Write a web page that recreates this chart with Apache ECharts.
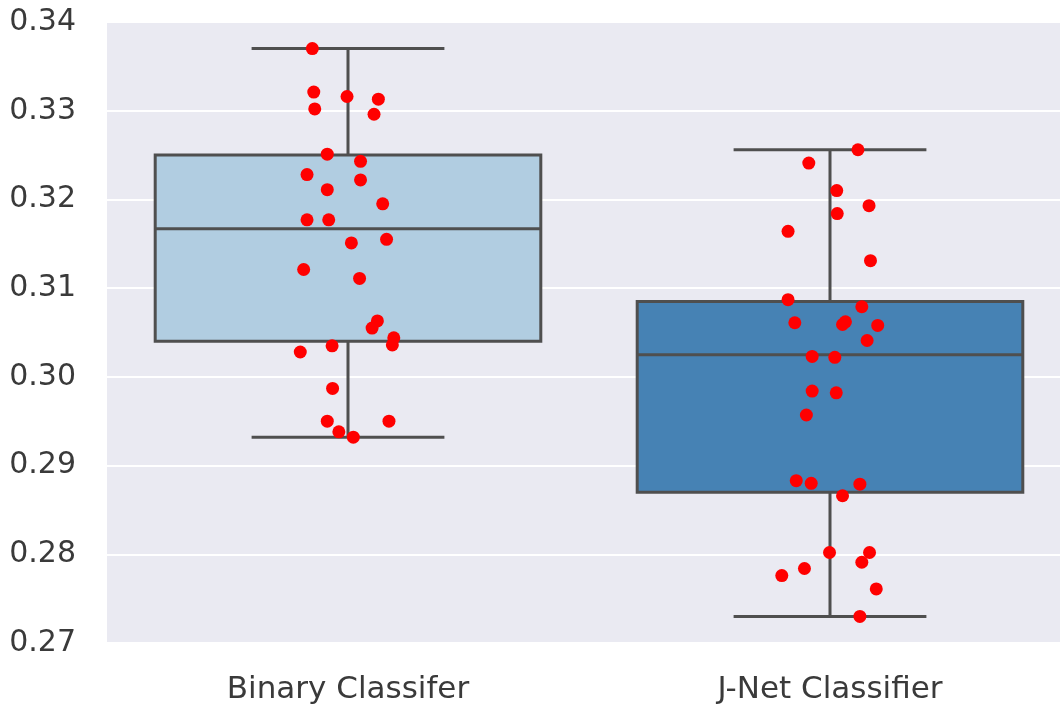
<!DOCTYPE html>
<html>
<head>
<meta charset="utf-8">
<script src="https://cdn.jsdelivr.net/npm/echarts@6/dist/echarts.min.js"></script>
<style>
  html, body { margin: 0; padding: 0; background: #ffffff; overflow: hidden; }
  #chart { width: 1060px; height: 709px; }
</style>
</head>
<body>
<div id="chart"></div>
<script>
// Classifier names shown on the x axis
const categories = ['Binary Classifer', 'J-Net Classifier'];

// Box statistics per classifier: [lower whisker, Q1, median, Q3, upper whisker]
const binaryBox = [0.2932, 0.3040, 0.3167, 0.3250, 0.3370];
const jnetBox = [0.2730, 0.2870, 0.3025, 0.3085, 0.3256];

// Individual scores per classifier
const binaryScores = [
  0.3370, 0.3321, 0.3302, 0.3316, 0.3313, 0.3296, 0.3251, 0.3243, 0.3228, 0.3222,
  0.3211, 0.3195, 0.3177, 0.3177, 0.3151, 0.3155, 0.3121, 0.3111, 0.3063, 0.3055,
  0.3044, 0.3036, 0.3035, 0.3028, 0.2987, 0.2950, 0.2950, 0.2938, 0.2932
];
// Horizontal strip jitter (fraction of a category band)
const binaryJitter = [
  -0.074, -0.071, -0.069, -0.002, 0.063, 0.054, -0.043, 0.026, -0.085, 0.026,
  -0.043, 0.072, -0.085, -0.040, 0.007, 0.080, -0.092, 0.024, 0.061, 0.050,
  0.095, 0.092, -0.033, -0.099, -0.032, -0.043, 0.085, -0.019, 0.011
];

const jnetScores = [
  0.3256, 0.3241, 0.3210, 0.3193, 0.3184, 0.3164, 0.3131, 0.3087, 0.3079, 0.3061,
  0.3059, 0.3062, 0.3058, 0.3041, 0.3023, 0.3022, 0.2984, 0.2982, 0.2957, 0.2883,
  0.2880, 0.2879, 0.2866, 0.2802, 0.2802, 0.2791, 0.2784, 0.2776, 0.2761, 0.2730
];
const jnetJitter = [
  0.058, -0.044, 0.014, 0.081, 0.015, -0.087, 0.084, -0.087, 0.066, -0.073,
  0.026, 0.032, 0.099, 0.077, -0.037, 0.010, -0.037, 0.013, -0.049, -0.070,
  -0.039, 0.062, 0.026, -0.001, 0.082, 0.066, -0.053, -0.100, 0.096, 0.062
];

// Y axis ticks
const yTicks = [0.27, 0.28, 0.29, 0.30, 0.31, 0.32, 0.33, 0.34];

const boxColors = ['#b1cde1', '#4682b4'];
const lineColor = '#4f4f4f';
const textColor = '#3a3a3a';
const fontFamily = 'DejaVu Sans';

const boxRows = [binaryBox, jnetBox].map((b, i) => [i].concat(b));

function stripData(scores, jitter, idx) {
  return scores.map((v, k) => [idx + jitter[k], v]);
}

const chart = echarts.init(document.getElementById('chart'), null, { renderer: 'canvas' });

// The plotting area runs a little past the right edge of the canvas
chart.setOption({
  animation: false,
  backgroundColor: '#ffffff',
  grid: {
    left: 107, width: 964, top: 22, bottom: 66,
    outerBoundsMode: 'none',
    containLabel: false,
    show: true, backgroundColor: '#EAEAF2', borderWidth: 0
  },
  xAxis: [
    {
      type: 'category',
      data: categories,
      boundaryGap: true,
      axisLine: { show: false },
      axisTick: { show: false },
      splitLine: { show: false },
      axisLabel: { margin: 31, fontSize: 31, fontFamily: fontFamily, color: textColor }
    },
    {
      type: 'value',
      min: -0.5, max: 1.5,
      show: false
    }
  ],
  yAxis: {
    type: 'value',
    min: yTicks[0],
    max: yTicks[yTicks.length - 1],
    interval: 0.01,
    axisLine: { show: false },
    axisTick: { show: false },
    splitLine: { show: true, lineStyle: { color: '#ffffff', width: 2 } },
    axisLabel: {
      margin: 31, fontSize: 30, fontFamily: fontFamily, color: textColor,
      formatter: v => v.toFixed(2)
    }
  },
  series: [
    {
      type: 'custom',
      xAxisIndex: 0,
      z: 2,
      data: boxRows,
      renderItem: function (params, api) {
        const idx = api.value(0);
        const band = api.size([1, 0])[0];
        const boxW = band * 0.8;
        const capW = boxW / 2;
        const pLo = api.coord([idx, api.value(1)]);
        const pQ1 = api.coord([idx, api.value(2)]);
        const pMed = api.coord([idx, api.value(3)]);
        const pQ3 = api.coord([idx, api.value(4)]);
        const pHi = api.coord([idx, api.value(5)]);
        const cx = pMed[0];
        const stroke = { stroke: lineColor, lineWidth: 3, fill: null };
        return {
          type: 'group',
          children: [
            { type: 'line', shape: { x1: cx, y1: pQ3[1], x2: cx, y2: pHi[1] }, style: stroke },
            { type: 'line', shape: { x1: cx, y1: pQ1[1], x2: cx, y2: pLo[1] }, style: stroke },
            { type: 'line', shape: { x1: cx - capW / 2, y1: pHi[1], x2: cx + capW / 2, y2: pHi[1] }, style: stroke },
            { type: 'line', shape: { x1: cx - capW / 2, y1: pLo[1], x2: cx + capW / 2, y2: pLo[1] }, style: stroke },
            {
              type: 'rect',
              shape: { x: cx - boxW / 2, y: pQ3[1], width: boxW, height: pQ1[1] - pQ3[1] },
              style: { fill: boxColors[idx], stroke: lineColor, lineWidth: 3 }
            },
            { type: 'line', shape: { x1: cx - boxW / 2, y1: pMed[1], x2: cx + boxW / 2, y2: pMed[1] }, style: stroke }
          ]
        };
      }
    },
    {
      type: 'scatter',
      xAxisIndex: 1,
      z: 5,
      symbol: 'circle',
      symbolSize: 13,
      itemStyle: { color: '#ff0000', opacity: 1 },
      data: stripData(binaryScores, binaryJitter, 0)
    },
    {
      type: 'scatter',
      xAxisIndex: 1,
      z: 5,
      symbol: 'circle',
      symbolSize: 13,
      itemStyle: { color: '#ff0000', opacity: 1 },
      data: stripData(jnetScores, jnetJitter, 1)
    }
  ]
});
</script>
</body>
</html>
